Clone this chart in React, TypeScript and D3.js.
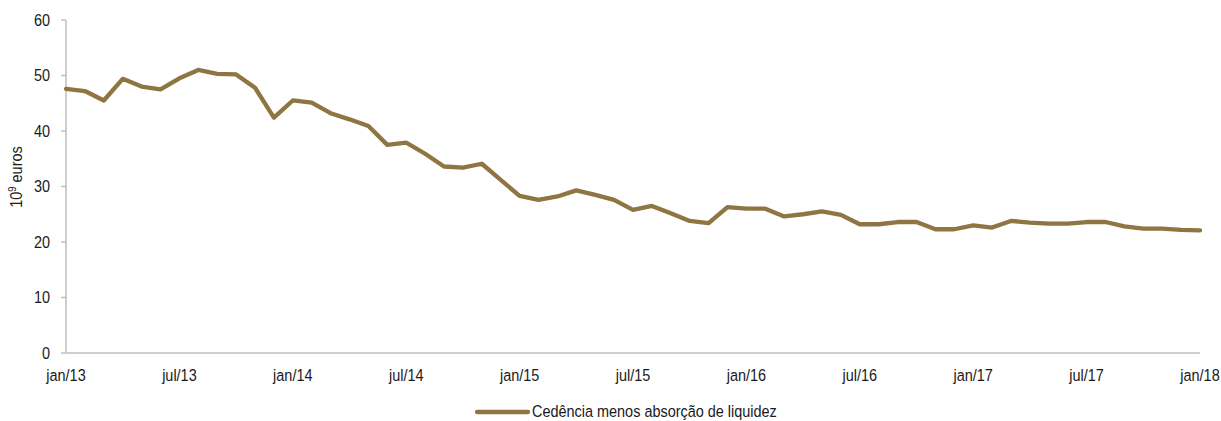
import React from "react";
import * as d3 from "d3";

const months: string[] = d3.range(61).map((i) => {
  const y = 13 + Math.floor(i / 12);
  const m = i % 12;
  return `${m}/${y}`;
});

const values: number[] = [
  47.6, 47.2, 45.5, 49.4, 48.0, 47.5, 49.5, 51.0, 50.3, 50.2, 47.8, 42.4,
  45.5, 45.1, 43.2, 42.1, 40.9, 37.5, 37.9, 35.9, 33.6, 33.4, 34.1, 31.2,
  28.3, 27.6, 28.2, 29.3, 28.5, 27.6, 25.8, 26.5, 25.2, 23.8, 23.4, 26.3,
  26.0, 26.0, 24.6, 25.0, 25.5, 24.9, 23.2, 23.2, 23.6, 23.6, 22.3, 22.3,
  23.0, 22.6, 23.8, 23.5, 23.3, 23.3, 23.6, 23.6, 22.8, 22.4, 22.4, 22.2,
  22.1,
];

const xTickIndices: number[] = [0, 6, 12, 18, 24, 30, 36, 42, 48, 54, 60];
const xTickLabels: string[] = [
  "jan/13", "jul/13", "jan/14", "jul/14", "jan/15", "jul/15",
  "jan/16", "jul/16", "jan/17", "jul/17", "jan/18",
];
const yTicks: number[] = [0, 10, 20, 30, 40, 50, 60];
const seriesName = "Cedência menos absorção de liquidez";

const W = 1221;
const H = 421;
const FONT = "'Liberation Sans', Arial, sans-serif";
const LINE_COLOR = "#8E7541";
const AXIS_COLOR = "#BFBFBF";
const TEXT_COLOR = "#1a1a1a";
const SX = 0.85; // horizontal condensing to mimic a narrow font

export default function App() {
  const x = d3.scaleLinear().domain([0, months.length - 1]).range([66, 1200]);
  const y = d3.scaleLinear().domain([0, 60]).range([353, 20]);
  const line = d3
    .line<number>()
    .x((_, i) => x(i))
    .y((d) => y(d));

  return (
    <svg
      width={W}
      height={H}
      style={{ position: "absolute", left: 0, top: 0, background: "#fff" }}
      fontFamily={FONT}
    >
      {/* y axis */}
      <line x1={66} x2={66} y1={y(60)} y2={y(0)} stroke={AXIS_COLOR} strokeWidth={1.5} />
      {yTicks.map((t) => (
        <g key={t}>
          <line x1={61} x2={66} y1={y(t)} y2={y(t)} stroke={AXIS_COLOR} strokeWidth={1.5} />
          <text
            transform={`translate(50, ${y(t)}) scale(${SX}, 1)`}
            textAnchor="end"
            dominantBaseline="central"
            fontSize={17}
            fill={TEXT_COLOR}
          >
            {t}
          </text>
        </g>
      ))}
      {/* x axis */}
      <line x1={66} x2={1200} y1={y(0)} y2={y(0)} stroke={AXIS_COLOR} strokeWidth={1.5} />
      {xTickIndices.map((idx, k) => (
        <text
          key={idx}
          transform={`translate(${x(idx)}, 381) scale(${SX}, 1)`}
          textAnchor="middle"
          fontSize={17}
          fill={TEXT_COLOR}
        >
          {xTickLabels[k]}
        </text>
      ))}
      {/* y label */}
      <text
        transform={`translate(22, 177) rotate(-90) scale(${SX}, 1)`}
        textAnchor="middle"
        fontSize={17}
        fill={TEXT_COLOR}
      >
        10<tspan dy={-6} fontSize={11}>9</tspan>
        <tspan dy={6}> euros</tspan>
      </text>
      {/* line */}
      <path
        d={line(values) || ""}
        fill="none"
        stroke={LINE_COLOR}
        strokeWidth={4.3}
        strokeLinejoin="round"
        strokeLinecap="round"
      />
      {/* legend */}
      <line x1={477} x2={528} y1={412} y2={412} stroke={LINE_COLOR} strokeWidth={4.3} strokeLinecap="round" />
      <text
        transform={`translate(532, 411) scale(${SX}, 1)`}
        dominantBaseline="central"
        fontSize={17}
        fill={TEXT_COLOR}
      >
        {seriesName}
      </text>
    </svg>
  );
}
